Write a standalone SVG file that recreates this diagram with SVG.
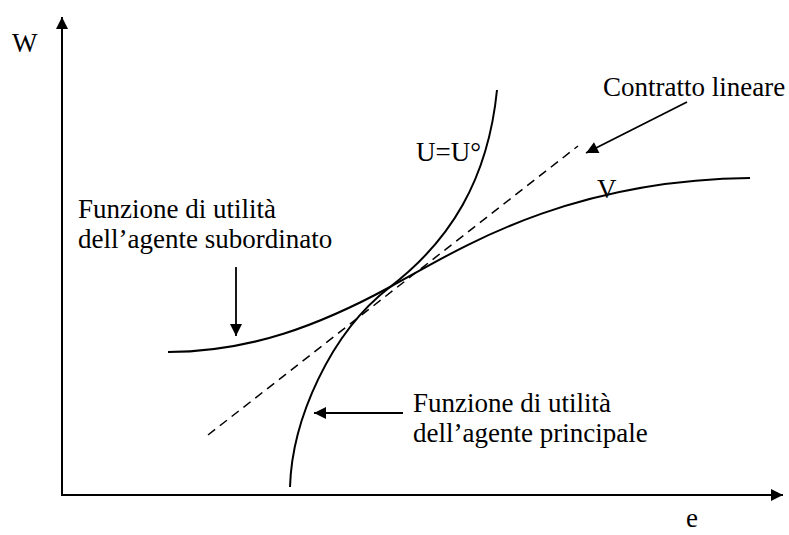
<svg xmlns="http://www.w3.org/2000/svg" width="789" height="535" viewBox="0 0 789 535">
<style>
text{font-family:"Liberation Serif","Times New Roman",serif;font-size:27px;fill:#000}
.ln{fill:none;stroke:#000;stroke-width:2}
.ax{fill:none;stroke:#000;stroke-width:2}
.ar{fill:none;stroke:#000;stroke-width:1.8}
.dash{fill:none;stroke:#000;stroke-width:1.5;stroke-dasharray:9,6}
</style>
<defs>
<marker id="ah" markerUnits="userSpaceOnUse" markerWidth="14" markerHeight="14" viewBox="0 0 14 14" refX="13" refY="7" orient="auto">
<path d="M1,1 L13,7 L1,13 Z" fill="#000"/>
</marker>
</defs>
<rect width="789" height="535" fill="#fff"/>
<g id="axes">
<line class="ax" x1="62" y1="496" x2="62" y2="17" marker-end="url(#ah)"/>
<line class="ax" x1="61" y1="495" x2="783" y2="495" marker-end="url(#ah)"/>
<text x="12" y="52">W</text>
<text x="686" y="527">e</text>
</g>
<g id="curve-U">
<path class="ln" d="M290,487 C292,420 330,333 390,287 C450,241 488,180 497,90"/>
<text x="416" y="161">U=U°</text>
</g>
<g id="curve-V">
<path class="ln" d="M168,352 C250,352 320,325 390,287 C450,255 560,180 750,178"/>
<text x="597" y="198">V</text>
</g>
<g id="contract-line">
<line class="dash" x1="208" y1="435" x2="578" y2="146"/>
</g>
<g id="label-contratto">
<text x="603" y="96">Contratto lineare</text>
</g>
<g id="label-subordinato">
<text x="78" y="218">Funzione di utilità</text>
<text x="78" y="248">dell’agente subordinato</text>
</g>
<g id="label-principale">
<text x="413" y="412">Funzione di utilità</text>
<text x="413" y="442">dell’agente principale</text>
</g>
<g id="connectors">
<line class="ar" x1="687" y1="102" x2="586" y2="153" marker-end="url(#ah)"/>
<line class="ar" x1="236" y1="267" x2="236" y2="336" marker-end="url(#ah)"/>
<line class="ar" x1="403" y1="413" x2="314" y2="413" marker-end="url(#ah)"/>
</g>
</svg>
